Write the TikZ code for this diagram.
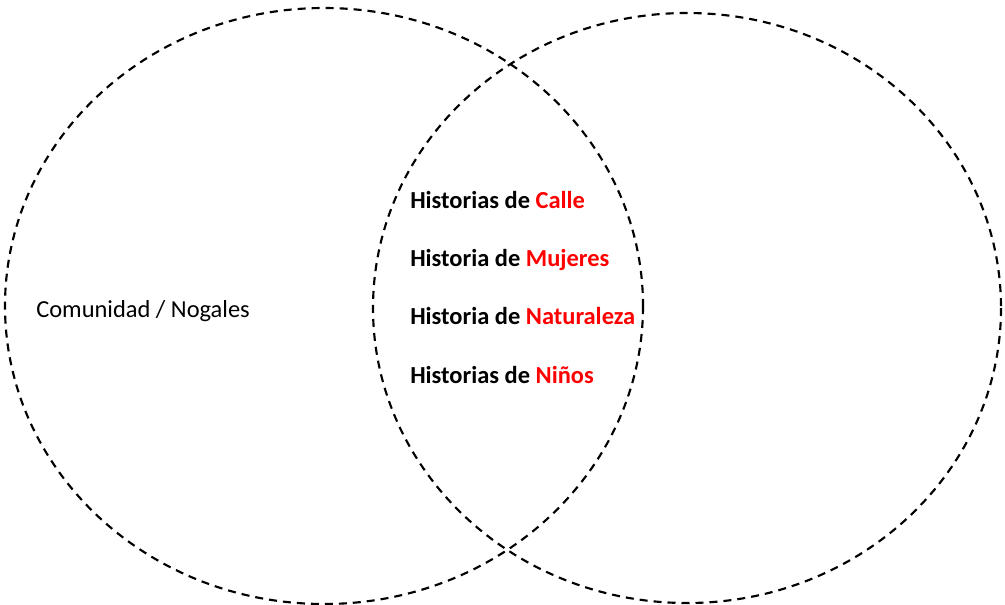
\documentclass[tikz,border=0pt]{standalone}
\usepackage{fontspec}
\setmainfont{Carlito}
\begin{document}
\begin{tikzpicture}[x=0.75pt,y=-0.75pt,
  venn/.style={draw=black,line width=1.6pt,dash pattern=on 6pt off 4.5pt},
  lbl/.style={anchor=base west,inner sep=0pt,font=\fontsize{18.35}{22}\selectfont},
  blbl/.style={lbl,font=\fontsize{18.35}{22}\selectfont\bfseries}]
\useasboundingbox (0,0) rectangle (1005,604);
\definecolor{vred}{RGB}{255,0,0}
\draw[venn] (324,306) ellipse [x radius=319, y radius=298];
\draw[venn] (687,308) ellipse [x radius=314, y radius=295];
\node[lbl] (com) at (36,317.5) {Comunidad / Nogales};
\node[blbl] (h1) at (410,208.5) {Historias de \textcolor{vred}{Calle}};
\node[blbl] (h2) at (410,266.5) {Historia de \textcolor{vred}{Mujeres}};
\node[blbl] (h3) at (410,324.5) {Historia de \textcolor{vred}{Naturaleza}};
\node[blbl] (h4) at (410,383.5) {Historias de \textcolor{vred}{Niños}};
\end{tikzpicture}
\end{document}
